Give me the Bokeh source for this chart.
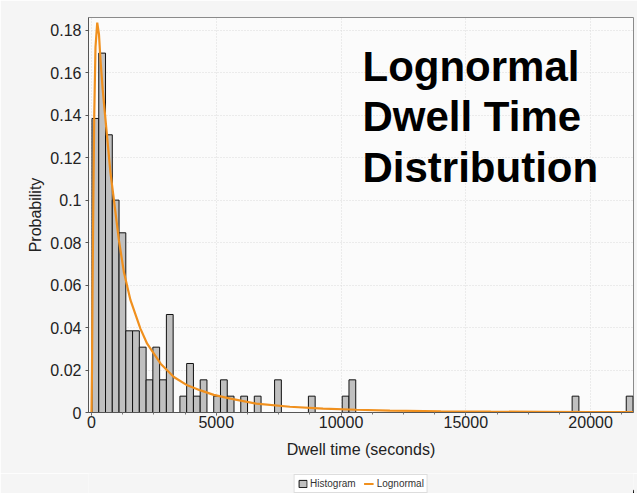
from bokeh.plotting import figure
from bokeh.layouts import column
from bokeh.models import (ColumnDataSource, Legend, LegendItem,
                          SingleIntervalTicker, FixedTicker, NumeralTickFormatter, Range1d)
from bokeh.core.properties import value
from bokeh.embed import file_html
from bokeh.resources import INLINE

# ---------------- data ----------------
bin_start = 20          # seconds, left edge of first bin
bin_width = 271         # seconds
n_samples = 130
counts = [18, 22, 17, 13, 11, 5, 5, 4, 2, 4,
          2, 6, 0, 1, 3, 1, 2, 0, 1, 2,
          1, 0, 1, 0, 1, 0, 0, 2, 0, 0,
          0, 0, 1, 0, 0, 0, 0, 1, 2, 0,
          0, 0, 0, 0, 0, 0, 0, 0, 0, 0,
          0, 0, 0, 0, 0, 0, 0, 0, 0, 0,
          0, 0, 0, 0, 0, 0, 0, 0, 0, 0,
          0, 1, 0, 0, 0, 0, 0, 0, 0, 1]

curve_x = [0, 20, 40, 70, 110, 160, 230, 300, 360, 450, 560, 760, 900, 1100,
           1300, 1560, 1960, 2230, 2770, 3300, 3840, 4370, 4900, 5570, 6600,
           7950, 9280, 10620, 11960, 14000, 16000, 18000, 20000, 21700]
curve_y = [0, 0.02, 0.055, 0.095, 0.14, 0.172, 0.1836, 0.178, 0.166, 0.152,
           0.138, 0.113, 0.100, 0.081, 0.066, 0.053, 0.0395, 0.0324, 0.023,
           0.0167, 0.0128, 0.0104, 0.0083, 0.0065, 0.0042, 0.0027, 0.0018,
           0.0013, 0.0009, 0.0006, 0.0004, 0.0003, 0.0002, 0.0002]

y_ticks = [0, 0.02, 0.04, 0.06, 0.08, 0.1, 0.12, 0.14, 0.16, 0.18]
title_lines = ["Lognormal", "Dwell Time", "Distribution"]
x_label = "Dwell time (seconds)"
y_label = "Probability"
legend_labels = ["Histogram", "Lognormal"]

# ---------------- derived ----------------
centers = [bin_start + (k + 0.5) * bin_width for k in range(len(counts))]
probs = [c / n_samples for c in counts]
bar_src = ColumnDataSource(dict(x=centers, top=probs))
curve_src = ColumnDataSource(dict(x=curve_x, y=curve_y))

FONT = "Liberation Sans"
OUTER = "#F5F5F5"
BAR_FILL = "#C0C0C0"
BAR_LINE = "#111111"
CURVE = "#F0901E"

p = figure(width=637, height=473, output_backend="svg", toolbar_location=None,
           x_range=Range1d(-120, 21720), y_range=Range1d(0, 0.186),
           min_border_left=88, min_border_right=4, min_border_top=17,
           min_border_bottom=61)

p.background_fill_color = "#FBFBFB"
p.border_fill_color = OUTER
p.outline_line_color = "#8A8A8A"

bars = p.vbar(x="x", top="top", width=bin_width, bottom=0, source=bar_src,
              fill_color=BAR_FILL, line_color=BAR_LINE, line_width=1)
line = p.line(x="x", y="y", source=curve_src, line_color=CURVE, line_width=2.2)

# axes
xa = p.xaxis[0]
xa.ticker = SingleIntervalTicker(interval=5000, num_minor_ticks=4)
xa.axis_label = x_label
ya = p.yaxis[0]
ya.ticker = FixedTicker(ticks=y_ticks)
ya.formatter = NumeralTickFormatter(format="0.[00]")
ya.axis_label = y_label

for ax in (xa, ya):
    ax.axis_line_color = "#555555"
    ax.major_tick_line_color = "#555555"
    ax.major_tick_in = 0
    ax.minor_tick_in = 0
    ax.major_label_text_font = FONT
    ax.major_label_text_font_size = "16px"
    ax.major_label_text_color = "#222222"
    ax.axis_label_text_font = FONT
    ax.axis_label_text_font_size = "16px"
    ax.axis_label_text_font_style = "normal"
    ax.axis_label_text_color = "#222222"

xa.minor_tick_line_color = "#777777"
ya.minor_tick_line_color = None
xa.major_tick_out = 3
xa.minor_tick_out = 2
xa.major_label_standoff = 0
xa.axis_label_standoff = 10
ya.major_tick_out = 3
ya.major_label_standoff = 4
ya.axis_label_standoff = 3

for g in (p.xgrid, p.ygrid):
    g.grid_line_color = "#DADADA"
    g.grid_line_dash = "1 2"

# title text in the plot
title_src = ColumnDataSource(dict(x=[10860] * 3, y=[0.1628, 0.1396, 0.1156],
                                  t=title_lines))
p.text(x="x", y="y", text="t", source=title_src, text_font=value(FONT),
       text_font_size="42px", text_font_style="bold", text_color="#000000",
       text_baseline="alphabetic", text_align="left")

# ---------------- legend strip below ----------------
# same data sources, drawn off-range so only the legend swatches show
lg = figure(width=637, height=20, output_backend="svg", toolbar_location=None,
            x_range=Range1d(-3, -2), y_range=Range1d(0, 1), min_border=0)
lg.axis.visible = False
lg.grid.visible = False
lg.outline_line_color = None
lg.border_fill_color = OUTER
lg.background_fill_color = OUTER
lg_bar = lg.vbar(x="x", top="top", width=bin_width, bottom=0, source=bar_src,
                 fill_color=BAR_FILL, line_color=BAR_LINE, line_width=1)
lg_line = lg.line(x="x", y="y", source=curve_src, line_color=CURVE, line_width=2)

legend = Legend(items=[LegendItem(label=legend_labels[0], renderers=[lg_bar]),
                       LegendItem(label=legend_labels[1], renderers=[lg_line])],
                orientation="horizontal", location="bottom_center")
legend.label_text_font = FONT
legend.label_text_font_size = "10px"
legend.label_text_color = "#333333"
legend.glyph_width = 10
legend.glyph_height = 9
legend.label_height = 9
legend.label_standoff = 3
legend.spacing = 8
legend.padding = 3
legend.margin = 0
legend.border_line_color = "#BBBBBB"
legend.background_fill_color = "#FFFFFF"
legend.background_fill_alpha = 1.0
lg.add_layout(legend, "center")

layout = column(p, lg, spacing=0)
open("out.html", "w").write(file_html(layout, INLINE))
